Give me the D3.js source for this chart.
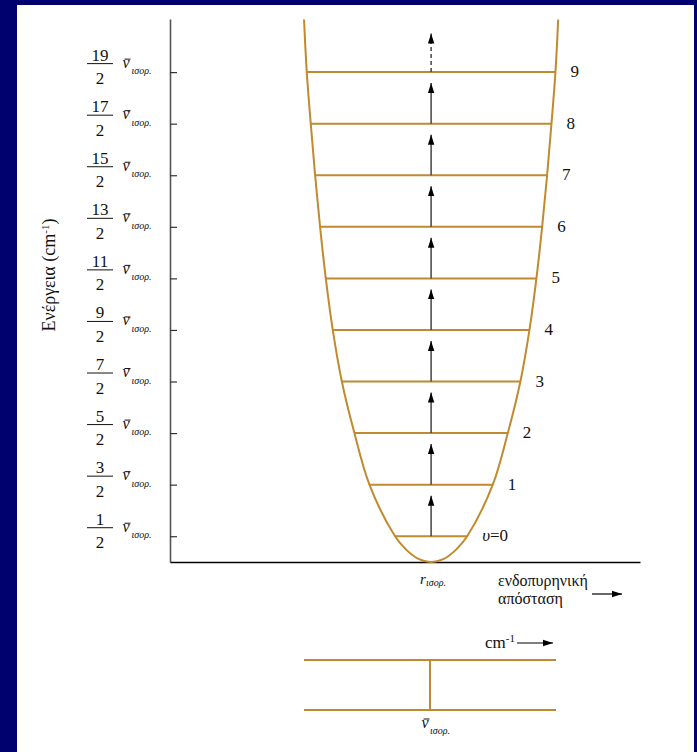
<!DOCTYPE html>
<html>
<head>
<meta charset="utf-8">
<script src="https://cdn.jsdelivr.net/npm/d3@7"></script>
<style>
  body { margin: 0; background: #00006e; }
  svg { display: block; }
</style>
</head>
<body>
<svg id="chart" width="697" height="752"></svg>
<script>
// vibrational quantum numbers v and their energies (v + 1/2) in units of nu_eq
const levels = [0, 1, 2, 3, 4, 5, 6, 7, 8, 9]
const levelEnergy = [0.5, 1.5, 2.5, 3.5, 4.5, 5.5, 6.5, 7.5, 8.5, 9.5]
const tickNumerators = ['1', '3', '5', '7', '9', '11', '13', '15', '17', '19']

// potential curve: energy vs half width (r - r_eq, arbitrary units)
const curveEnergy = [0, 0.06, 0.125, 0.25, 0.5, 1.5, 2.5, 3.5, 4.5, 5.5, 6.5, 7.5, 8.5, 9.5, 10.52]
const curveHalfWidth = [0, 0.102, 0.145, 0.205, 0.29, 0.496, 0.617, 0.718, 0.791, 0.847, 0.893, 0.933, 0.968, 1.0, 1.022]

// spectrum below: one line at nu_eq
const spectrumLines = [1]

const ORANGE = '#c08a2e'
const SERIF = 'Liberation Serif, DejaVu Serif, serif'
const svg = d3.select('#chart')
  .attr('font-family', SERIF)

svg.append('rect').attr('x', 17).attr('y', 5).attr('width', 677).attr('height', 747).attr('fill', '#fff')

const defs = svg.append('defs')
defs.append('marker')
  .attr('id', 'head')
  .attr('viewBox', '0 -4 10 8')
  .attr('refX', 10).attr('refY', 0)
  .attr('markerWidth', 10).attr('markerHeight', 8)
  .attr('markerUnits', 'userSpaceOnUse')
  .attr('orient', 'auto')
  .append('path').attr('d', 'M0,-3.2L10,0L0,3.2Z').attr('fill', '#000')

const x = d3.scaleLinear().domain([-2.1, 1.68]).range([170, 640])
const y = d3.scaleLinear().domain([0, 10.53]).range([562, 19])
const half = d3.scaleLinear().domain(curveEnergy).range(curveHalfWidth)

// axes
const yAxis = svg.append('g')
  .attr('transform', `translate(${x.range()[0]},0)`)
  .call(d3.axisRight(y).tickValues(levelEnergy).tickSize(7).tickSizeOuter(0).tickFormat(''))
yAxis.select('.domain').attr('stroke', '#555').attr('stroke-width', 1.6)
yAxis.selectAll('.tick line').attr('stroke', '#333').attr('stroke-width', 1.2)

const xAxis = svg.append('g')
  .attr('transform', `translate(0,${y(0)})`)
  .call(d3.axisBottom(x).tickValues([]).tickSizeOuter(0))
xAxis.select('.domain').attr('stroke', '#000').attr('stroke-width', 1.4)

const T = sel => sel.attr('font-family', SERIF).attr('fill', '#111')

// tick labels: (2v+1)/2 nu_eq
const tl = svg.append('g').selectAll('g').data(levelEnergy).join('g')
  .attr('transform', d => `translate(0,${y(d)})`)
tl.append('text').call(T).attr('x', 100).attr('y', -11.5).attr('text-anchor', 'middle')
  .attr('font-size', 17).text((d, i) => tickNumerators[i])
tl.append('line').attr('x1', 87).attr('x2', 113).attr('y1', -8.5).attr('y2', -8.5)
  .attr('stroke', '#111').attr('stroke-width', 1)
tl.append('text').call(T).attr('x', 100).attr('y', 12).attr('text-anchor', 'middle')
  .attr('font-size', 17).text('2')
tl.append('text').call(T).attr('x', 122.5).attr('y', -4.5)
  .attr('font-size', 16).attr('font-style', 'italic').text('ν')
tl.append('line').attr('x1', 124.5).attr('x2', 130.5).attr('y1', -13).attr('y2', -13)
  .attr('stroke', '#111').attr('stroke-width', 1)
tl.append('text').call(T).attr('x', 131.5).attr('y', 2)
  .attr('font-size', 10).attr('font-style', 'italic').text('ισορ.')

// y title
const yt = svg.append('text').call(T)
  .attr('transform', 'translate(55,275) rotate(-90)')
  .attr('text-anchor', 'middle')
  .attr('font-size', 18)
yt.append('tspan').text('Ενέργεια (cm')
yt.append('tspan').attr('dy', -6).attr('font-size', 11).text('-1')
yt.append('tspan').attr('dy', 6).text(')')

// potential curve
const pts = []
for (let i = curveEnergy.length - 1; i > 0; i--) pts.push([-curveHalfWidth[i], curveEnergy[i]])
for (let i = 0; i < curveEnergy.length; i++) pts.push([curveHalfWidth[i], curveEnergy[i]])
svg.append('path')
  .attr('d', d3.line().x(d => x(d[0])).y(d => y(d[1])).curve(d3.curveCatmullRom.alpha(0.5))(pts))
  .attr('fill', 'none').attr('stroke', ORANGE).attr('stroke-width', 2)

// energy levels
svg.append('g').selectAll('line').data(levelEnergy).join('line')
  .attr('x1', d => x(-half(d))).attr('x2', d => x(half(d)))
  .attr('y1', d => y(d)).attr('y2', d => y(d))
  .attr('stroke', ORANGE).attr('stroke-width', 2)

// transition arrows
const arrows = svg.append('g').selectAll('line').data(levelEnergy).join('line')
  .attr('x1', x(0)).attr('x2', x(0))
  .attr('y1', d => y(d)).attr('y2', d => y(d + 1) + 11)
  .attr('stroke', '#444').attr('stroke-width', 1.5)
  .attr('marker-end', 'url(#head)')
arrows.filter((d, i) => i === levels.length - 1)
  .attr('y2', d => y(d + 1) + 13).attr('stroke-dasharray', '4,3')

// level labels
svg.append('g').selectAll('text').data(levels).join('text').call(T)
  .attr('x', d => x(half(levelEnergy[d])) + 15)
  .attr('y', d => y(levelEnergy[d]) + 5)
  .attr('font-size', 17)
  .each(function(d) {
    const t = d3.select(this)
    if (d === 0) {
      t.append('tspan').attr('font-style', 'italic').text('υ')
      t.append('tspan').text('=0')
    } else t.text(d)
  })

// r_eq label and x title
const rl = svg.append('text').call(T).attr('x', x(0) - 11).attr('y', y(0) + 21.5)
rl.append('tspan').attr('font-size', 15).attr('font-style', 'italic').text('r')
rl.append('tspan').attr('dy', 2).attr('font-size', 10).attr('font-style', 'italic').text('ισορ.')

svg.append('text').call(T).attr('x', 498).attr('y', 586).attr('font-size', 16).text('ενδοπυρηνική')
svg.append('text').call(T).attr('x', 498).attr('y', 604).attr('font-size', 16).text('απόσταση')
svg.append('line').attr('x1', 592).attr('x2', 622).attr('y1', 594).attr('y2', 594)
  .attr('stroke', '#000').attr('stroke-width', 1.2).attr('marker-end', 'url(#head)')

// spectrum panel
const s = d3.scaleLinear().domain([0, 2]).range([304, 556])
const sTop = 660, sBot = 710
svg.append('g').selectAll('line').data([sTop, sBot]).join('line')
  .attr('x1', s(0)).attr('x2', s(2)).attr('y1', d => d).attr('y2', d => d)
  .attr('stroke', ORANGE).attr('stroke-width', 2)
svg.append('g').selectAll('line').data(spectrumLines).join('line')
  .attr('x1', d => s(d)).attr('x2', d => s(d)).attr('y1', sTop).attr('y2', sBot)
  .attr('stroke', ORANGE).attr('stroke-width', 2)

const sl = svg.append('g').attr('transform', `translate(${s(1)},${sBot})`)
sl.append('text').call(T).attr('x', -8.5).attr('y', 18).attr('font-size', 16).attr('font-style', 'italic').text('ν')
sl.append('line').attr('x1', -6.5).attr('x2', -0.5).attr('y1', 9).attr('y2', 9).attr('stroke', '#111').attr('stroke-width', 1)
sl.append('text').call(T).attr('x', 0).attr('y', 23.5).attr('font-size', 10).attr('font-style', 'italic').text('ισορ.')

const cm = svg.append('text').call(T).attr('x', 485).attr('y', 648).attr('font-size', 17)
cm.append('tspan').text('cm')
cm.append('tspan').attr('dy', -6).attr('font-size', 11).text('-1')
svg.append('line').attr('x1', 517).attr('x2', 553).attr('y1', 643).attr('y2', 643)
  .attr('stroke', '#000').attr('stroke-width', 1.2).attr('marker-end', 'url(#head)')
</script>
</body>
</html>
